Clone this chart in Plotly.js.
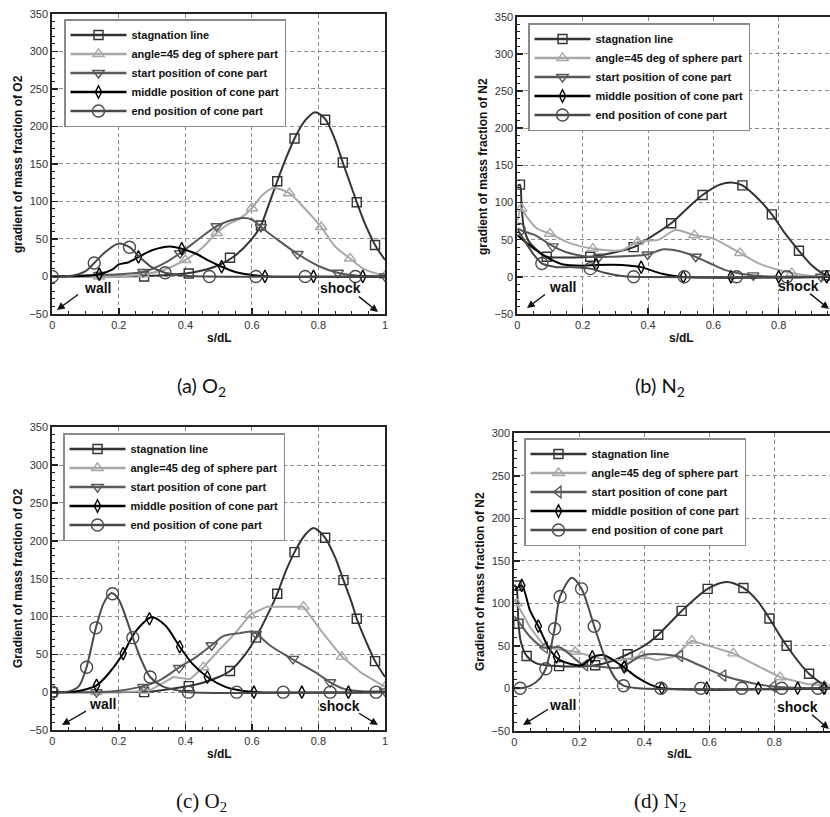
<!DOCTYPE html>
<html><head><meta charset="utf-8">
<script src="https://cdn.plot.ly/plotly-3.0.1.min.js"></script>
<style>html,body{margin:0;padding:0;background:#fff}#chart{width:830px;height:817px}</style>
</head><body><div id="chart"></div>
<script>
// ---------- DATA ----------
const seriesNames = ["stagnation line","angle=45 deg of sphere part","start position of cone part","middle position of cone part","end position of cone part"];
const xTickVals = [0,0.2,0.4,0.6,0.8,1];

// (a) O2
const aStagX = [0,0.2,0.3,0.4,0.45,0.5,0.55,0.6,0.627,0.65,0.676,0.7,0.728,0.76,0.79,0.82,0.85,0.873,0.9,0.915,0.94,0.97,1];
const aStagY = [0,0,1,4,8,15,28,50,68,95,127,155,184,208,219,210,182,152,118,99,70,42,22];
const aStagMX = [0.276,0.41,0.534,0.627,0.676,0.728,0.82,0.873,0.915,0.97];
const aStagMY = [0,4,25,68,127,184,209,152,99,42];
const aAngX = [0,0.2,0.274,0.33,0.4,0.45,0.494,0.53,0.56,0.6,0.63,0.664,0.712,0.76,0.808,0.85,0.895,0.94,1];
const aAngY = [0,0,3,8,22,38,58,70,76,91,108,118,111,90,66,40,24,9,1];
const aAngMX = [0.141,0.274,0.4,0.494,0.6,0.712,0.808,0.895,1];
const aAngMY = [0,3,22,58,91,111,66,24,1];
const aStartX = [0,0.141,0.2,0.274,0.33,0.384,0.44,0.494,0.53,0.574,0.6,0.627,0.68,0.737,0.8,0.858,0.92,1];
const aStartY = [0,2,3,6,16,31,50,67,74,78,76,66,48,30,14,5,1,0];
const aStartMX = [0.141,0.274,0.384,0.494,0.627,0.737,0.858,1];
const aStartMY = [2,6,31,67,66,30,5,0];
const aMidX = [0,0.1,0.141,0.18,0.2,0.23,0.259,0.3,0.354,0.389,0.434,0.47,0.509,0.55,0.6,0.65,1];
const aMidY = [0,1,3,9,16,19,26,35,40,37,30,21,13,6,2,0,0];
const aMidMX = [0.141,0.259,0.389,0.509,0.639,0.785,0.933];
const aMidMY = [3,26,37,13,0,0,0];
const aEndX = [0,0.06,0.1,0.126,0.16,0.2,0.232,0.26,0.3,0.339,0.4,0.47,1];
const aEndY = [0,1,7,18,33,44,39,27,12,5,1,0,0];
const aEndMX = [0,0.126,0.232,0.339,0.472,0.612,0.76,0.911];
const aEndMY = [0,18,39,5,0,0,0,0];

// (b) N2
const bStagX = [0,0.008,0.013,0.02,0.035,0.06,0.09,0.15,0.223,0.29,0.356,0.41,0.471,0.52,0.567,0.62,0.656,0.689,0.73,0.779,0.82,0.862,0.9,0.947,1];
const bStagY = [122,124,95,66,48,36,27,26,27,32,40,54,72,92,110,124,127,123,108,84,58,35,16,2,0];
const bStagMX = [0.008,0.09,0.223,0.356,0.471,0.567,0.689,0.779,0.862,0.947];
const bStagMY = [124,27,27,40,72,110,123,84,35,2];
const bAngX = [0,0.012,0.03,0.06,0.1,0.163,0.229,0.32,0.368,0.433,0.484,0.542,0.596,0.682,0.739,0.84,0.9,1];
const bAngY = [75,92,80,65,58,45,38,36,47,50,63,56,52,32,18,5,1,0];
const bAngMX = [0.012,0.1,0.231,0.368,0.542,0.682,0.84];
const bAngMY = [92,58,38,47,56,32,5];
const bStartX = [0,0.015,0.054,0.106,0.15,0.218,0.29,0.397,0.448,0.5,0.545,0.6,0.637,0.718,0.8,1];
const bStartY = [65,62,56,42,33,27,27,30,37,34,27,16,9,2,0,0];
const bStartMX = [0.108,0.25,0.399,0.546,0.722,0.93];
const bStartMY = [41,27,30,27,2,0];
const bMidX = [0,0.03,0.06,0.086,0.137,0.2,0.241,0.32,0.379,0.443,0.5,1];
const bMidY = [56,45,35,27,17,15,16,16,13,4,0,0];
const bMidMX = [0.241,0.379,0.508,0.654,0.8,0.947];
const bMidMY = [16,13,0,0,0,0];
const bEndX = [0,0.02,0.05,0.075,0.12,0.17,0.223,0.27,0.32,0.356,1];
const bEndY = [64,50,30,18,13,13,11,5,1,0,0];
const bEndMX = [0.005,0.075,0.223,0.356,0.511,0.671,0.825];
const bEndMY = [64,18,11,0,0,0,0];

// (c) O2
const cStagX = [0,0.2,0.3,0.41,0.45,0.5,0.534,0.58,0.612,0.65,0.676,0.7,0.728,0.76,0.785,0.82,0.85,0.875,0.9,0.915,0.94,0.97,1];
const cStagY = [0,0,1,8,12,20,28,50,72,105,130,158,185,208,217,204,178,148,118,97,70,41,20];
const cStagMX = [0,0.276,0.41,0.534,0.612,0.676,0.728,0.82,0.875,0.915,0.97];
const cStagMY = [0,0,8,28,72,130,185,204,148,97,41];
const cAngX = [0,0.25,0.3,0.364,0.414,0.454,0.5,0.55,0.594,0.645,0.755,0.81,0.87,0.93,1];
const cAngY = [0,1,4,20,17,33,55,78,102,113,113,80,47,25,7];
const cAngMX = [0.133,0.276,0.454,0.594,0.755,0.87,1];
const cAngMY = [0,2,33,102,113,47,7];
const cStartX = [0,0.133,0.2,0.264,0.324,0.379,0.434,0.479,0.514,0.564,0.604,0.622,0.66,0.72,0.795,0.835,0.88,0.94,1];
const cStartY = [0,0,2,7,16,32,47,62,74,78,80,74,60,44,25,13,4,1,1];
const cStartMX = [0.133,0.274,0.381,0.479,0.612,0.723,0.835,1];
const cStartMY = [0,7,32,62,77,44,13,1];
const cMidX = [0,0.07,0.133,0.17,0.213,0.25,0.299,0.34,0.383,0.42,0.466,0.52,0.57,0.62,1];
const cMidY = [0,1,9,25,51,80,99,88,60,38,20,7,2,0,0];
const cMidMX = [0.133,0.213,0.292,0.383,0.466,0.606,0.75,0.89];
const cMidMY = [9,51,97,60,20,0,0,0];
const cEndX = [0,0.05,0.08,0.103,0.131,0.155,0.178,0.2,0.242,0.27,0.294,0.33,0.38,0.409,1];
const cEndY = [0,1,8,33,85,118,131,122,72,40,20,8,2,0,0];
const cEndMX = [0,0.103,0.131,0.181,0.242,0.294,0.409,0.554,0.694,0.835,0.973];
const cEndMY = [0,33,85,130,72,20,0,0,0,0,0];

// (d) N2
const dStagX = [0,0.007,0.013,0.02,0.038,0.07,0.138,0.249,0.3,0.349,0.4,0.443,0.515,0.595,0.653,0.705,0.75,0.785,0.838,0.907,0.96,1];
const dStagY = [122,118,76,55,38,29,26,27,32,40,50,63,91,117,125,118,102,82,50,17,3,0];
const dStagMX = [0.007,0.013,0.038,0.138,0.249,0.349,0.443,0.515,0.595,0.705,0.785,0.838,0.907];
const dStagMY = [121,76,38,26,27,40,63,91,117,118,82,50,17];
const dAngX = [0,0.007,0.048,0.089,0.13,0.187,0.264,0.325,0.392,0.438,0.49,0.546,0.674,0.75,0.818,0.9,1];
const dAngY = [105,100,72,51,46,43,35,33,38,33,37,56,41,26,13,5,2];
const dAngMX = [0.007,0.187,0.392,0.546,0.674,0.818,0.955];
const dAngMY = [100,43,38,56,41,13,3];
const dStartX = [0,0.02,0.05,0.089,0.141,0.21,0.25,0.325,0.397,0.5,0.57,0.643,0.72,0.797,0.9,1];
const dStartY = [85,75,60,48,48,28,26,24,39,38,27,15,7,2,0,0];
const dStartMX = [0.094,0.218,0.338,0.51,0.643,0.797,0.95];
const dStartMY = [48,27,26,38,15,2,0];
const dMidX = [0,0.023,0.048,0.074,0.11,0.141,0.207,0.243,0.274,0.336,0.377,0.42,0.454,1];
const dMidY = [115,121,92,73,45,33,27,37,39,25,13,4,0,0];
const dMidMX = [0.023,0.074,0.13,0.24,0.338,0.454,0.592,0.751,0.872,0.953];
const dMidMY = [121,73,37,37,25,0,0,0,0,0];
const dEndX = [0,0.018,0.05,0.08,0.097,0.124,0.141,0.177,0.207,0.246,0.28,0.31,0.336,0.38,1];
const dEndY = [0,0,3,12,23,70,108,130,117,73,35,12,3,0,0];
const dEndMX = [0.018,0.097,0.124,0.141,0.207,0.246,0.336,0.451,0.574,0.7,0.823,0.934];
const dEndMY = [0,23,70,108,117,73,3,0,0,0,0,0];

// ---------- STYLE ----------
const SANS = '"Liberation Sans", Arial, sans-serif';
const styles = [
  {color:'#333333', symbol:'square-open', size:9},
  {color:'#a8a8a8', symbol:'triangle-up-open', size:10},
  {color:'#595959', symbol:'triangle-down-open', size:10},
  {color:'#000000', symbol:'diamond-tall-open', size:9},
  {color:'#4a4a4a', symbol:'circle-open', size:12}
];

const panels = [
  {xa:'x', ya:'y', legend:'legend', series:[[aStagX,aStagY,aStagMX,aStagMY],[aAngX,aAngY,aAngMX,aAngMY],[aStartX,aStartY,aStartMX,aStartMY],[aMidX,aMidY,aMidMX,aMidMY],[aEndX,aEndY,aEndMX,aEndMY]], shapes:['spline','spline','spline','spline','spline']},
  {xa:'x2', ya:'y2', legend:'legend2', series:[[bStagX,bStagY,bStagMX,bStagMY],[bAngX,bAngY,bAngMX,bAngMY],[bStartX,bStartY,bStartMX,bStartMY],[bMidX,bMidY,bMidMX,bMidMY],[bEndX,bEndY,bEndMX,bEndMY]], shapes:['spline','spline','spline','spline','spline']},
  {xa:'x3', ya:'y3', legend:'legend3', series:[[cStagX,cStagY,cStagMX,cStagMY],[cAngX,cAngY,cAngMX,cAngMY],[cStartX,cStartY,cStartMX,cStartMY],[cMidX,cMidY,cMidMX,cMidMY],[cEndX,cEndY,cEndMX,cEndMY]], shapes:['spline','linear','spline','spline','spline']},
  {xa:'x4', ya:'y4', legend:'legend4', series:[[dStagX,dStagY,dStagMX,dStagMY],[dAngX,dAngY,dAngMX,dAngMY],[dStartX,dStartY,dStartMX,dStartMY],[dMidX,dMidY,dMidMX,dMidMY],[dEndX,dEndY,dEndMX,dEndMY]], shapes:['spline','linear','spline','spline','spline'], startSymbol:'triangle-left-open'}
];

const traces = [];
panels.forEach(p => {
  p.series.forEach((s, i) => {
    const st = styles[i];
    const sym = (i === 2 && p.startSymbol) ? p.startSymbol : st.symbol;
    const mk = {symbol:sym, size:st.size, color:st.color, line:{width:1.4, color:st.color}};
    traces.push({x:s[0], y:s[1], xaxis:p.xa, yaxis:p.ya, mode:'lines', showlegend:false, hoverinfo:'skip',
      line:{color:st.color, width:2, shape:p.shapes[i], smoothing:0.8}});
    traces.push({x:s[2], y:s[3], xaxis:p.xa, yaxis:p.ya, mode:'markers', showlegend:false, marker:mk});
    traces.push({x:[null], y:[null], xaxis:p.xa, yaxis:p.ya, mode:'lines+markers', name:seriesNames[i],
      legend:p.legend, showlegend:true, line:{color:st.color, width:2.5}, marker:mk});
  });
});

function xAx(domain, range, anchor){
  return {domain, range, anchor, tickvals:xTickVals, ticks:'inside', ticklen:6, tickwidth:1.5, tickcolor:'#222',
    showline:true, linecolor:'#222', linewidth:2, mirror:true, showgrid:true, gridcolor:'#8a8a8a', griddash:'4px,3px', gridwidth:1,
    zeroline:false, tickfont:{family:SANS, size:11, color:'#333'},
    minor:{dtick:0.05, tick0:0, ticks:'inside', ticklen:3, tickwidth:1, tickcolor:'#222', showgrid:false}, fixedrange:true};
}
function yAx(domain, range, anchor, mirror){
  return {domain, range, anchor, dtick:50, tick0:0, ticks:'inside', ticklen:6, tickwidth:1.5, tickcolor:'#222',
    showline:true, linecolor:'#222', linewidth:2, mirror:mirror, showgrid:true, gridcolor:'#8a8a8a', griddash:'4px,3px', gridwidth:1,
    zeroline:false, tickfont:{family:SANS, size:11, color:'#333'},
    minor:{dtick:10, tick0:0, ticks:'inside', ticklen:3, tickwidth:1, tickcolor:'#222', showgrid:false}, fixedrange:true};
}
const W = 830, H = 817;
const px = v => v / W, py = v => 1 - v / H;

function legendAt(x, y){
  return {x:px(x), y:py(y), xanchor:'left', yanchor:'top', bgcolor:'#fff', bordercolor:'#8a8a8a', borderwidth:1.5,
    font:{family:SANS, size:11, color:'#111', weight:'bold'}, itemwidth:56, traceorder:'normal', tracegroupgap:0};
}

const ann = [];
function txt(x, y, text, opts){ ann.push(Object.assign({xref:'paper', yref:'paper', x:px(x), y:py(y), text, showarrow:false, xanchor:'center', yanchor:'middle'}, opts)); }
function arrow(hx, hy, tx, ty){ ann.push({xref:'paper', yref:'paper', x:px(hx), y:py(hy), ax:tx-hx, ay:ty-hy, text:' ', showarrow:true, arrowhead:2, arrowsize:1.1, arrowwidth:1.4, arrowcolor:'#111', standoff:0, startstandoff:0, font:{size:2}}); }
const boldFont = s => ({family:SANS, size:s, color:'#111', weight:'bold'});

txt(18, 164, 'gradient of mass fraction of O2', {textangle:-90, font:boldFont(12)});
txt(483, 167, 'gradient of mass fraction of N2', {textangle:-90, font:boldFont(12)});
txt(18, 578, 'Gradient of mass fraction of O2', {textangle:-90, font:boldFont(12)});
txt(480, 582, 'Gradient of mass fraction of N2', {textangle:-90, font:boldFont(12)});
txt(219, 338, 's/dL', {font:boldFont(12)});
txt(681, 338, 's/dL', {font:boldFont(12)});
txt(219, 754, 's/dL', {font:boldFont(12)});
txt(679, 754, 's/dL', {font:boldFont(12)});
txt(97, 288, 'wall', {font:boldFont(14)});
txt(340, 288, 'shock', {font:boldFont(14)});
txt(562, 287, 'wall', {font:boldFont(14)});
txt(798, 286, 'shock', {font:boldFont(14)});
txt(102, 704, 'wall', {font:boldFont(14)});
txt(339, 706, 'shock', {font:boldFont(14)});
txt(562, 705, 'wall', {font:boldFont(14)});
txt(797, 707, 'shock', {font:boldFont(14)});
arrow(57, 310, 80, 293); arrow(378, 312, 357, 295);
arrow(527, 308, 547, 293); arrow(837, 309, 808, 292);
arrow(62, 725, 88, 710); arrow(378, 725, 357, 712);
arrow(523, 725, 550, 708); arrow(837, 729, 810, 713);
txt(201, 386, '(a) O<sub>2</sub>', {font:{family:'Lato, "Open Sans", sans-serif', size:20, color:'#111'}});
txt(660, 386, '(b) N<sub>2</sub>', {font:{family:'Lato, "Open Sans", sans-serif', size:20, color:'#111'}});
txt(201, 802, '(c) O<sub>2</sub>', {font:{family:'"Liberation Serif", "Times New Roman", serif', size:21, color:'#111'}});
txt(660, 802, '(d) N<sub>2</sub>', {font:{family:'"Liberation Serif", "Times New Roman", serif', size:21, color:'#111'}});

const layout = {
  width:W, height:H, margin:{l:0, r:0, t:0, b:0}, paper_bgcolor:'#fff', plot_bgcolor:'#fff', hovermode:false,
  font:{family:SANS},
  xaxis:xAx([0.0630,0.4639],[0,1],'y'),
  yaxis:yAx([0.6157,0.9829],[-50,350],'x',true),
  xaxis2:xAx([0.6233,1],[0,0.957],'y2'),
  yaxis2:yAx([0.6157,0.9796],[-50,350],'x2',false),
  xaxis3:xAx([0.0630,0.4639],[0,1],'y3'),
  yaxis3:yAx([0.1065,0.4770],[-50,350],'x3',true),
  xaxis4:xAx([0.6196,1],[0,0.9714],'y4'),
  yaxis4:yAx([0.1056,0.4696],[-50,300],'x4',false),
  legend:legendAt(64,19), legend2:legendAt(528,23), legend3:legendAt(63,433), legend4:legendAt(524,438),
  annotations:ann, showlegend:true
};
Plotly.newPlot('chart', traces, layout, {staticPlot:true, displayModeBar:false});
</script></body></html>
